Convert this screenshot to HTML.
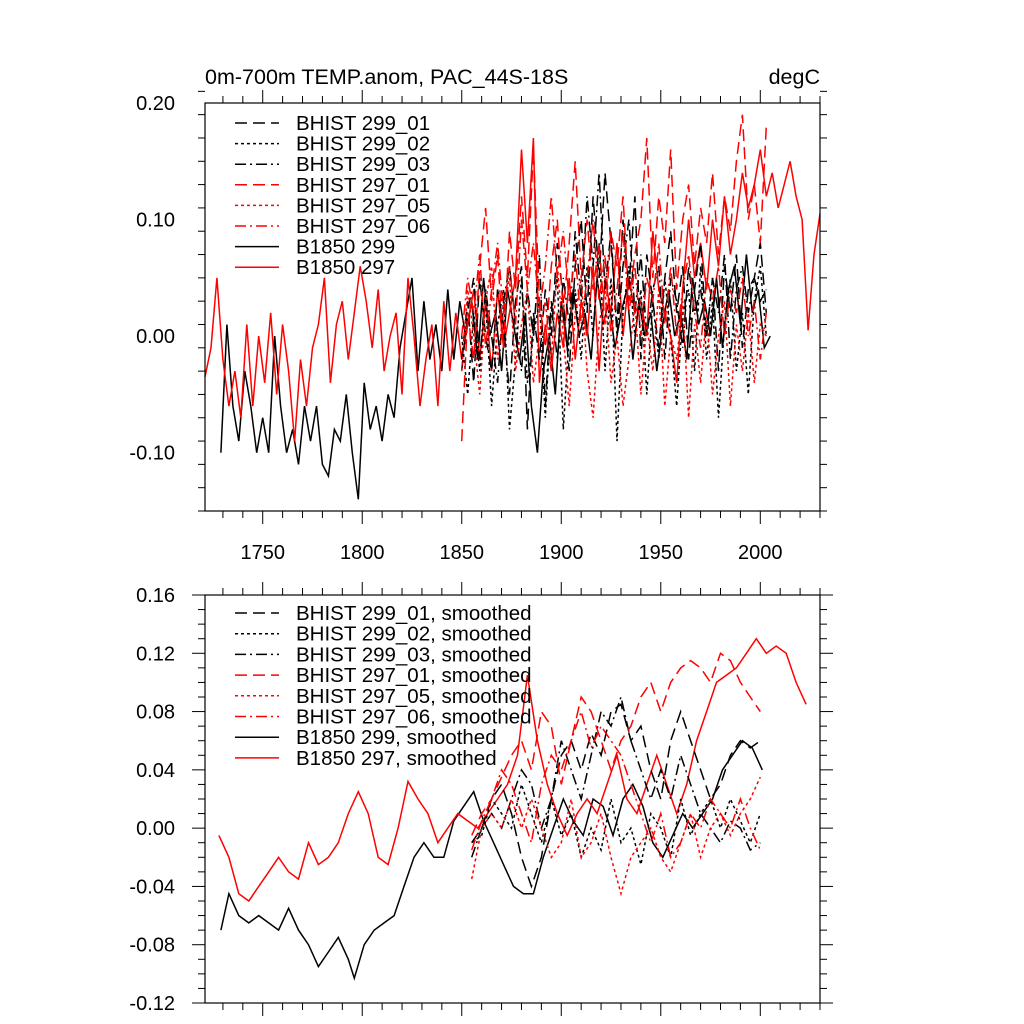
<!DOCTYPE html>
<html><head><meta charset="utf-8"><style>
html,body{margin:0;padding:0;background:#fff;}
svg{display:block;font-family:"Liberation Sans",sans-serif;}
</style></head><body>
<svg id="chart" width="1024" height="1024" viewBox="0 0 1024 1024"></svg>
<script>
// ---- data ----
const hYears = []; for (let y = 1850; y <= 2005; y += 3) hYears.push(y);
const b297Years = []; for (let y = 1721; y <= 2030; y += 3) b297Years.push(y);
const b297Vals = [-0.035,-0.01,0.05,-0.02,-0.06,-0.03,-0.07,0.01,-0.06,0.0,-0.04,0.02,-0.05,0.01,-0.03,-0.09,-0.02,-0.06,-0.01,0.01,0.05,-0.04,0.01,0.03,-0.02,0.02,0.06,0.03,-0.01,0.04,-0.03,0.0,0.02,-0.05,0.05,0.0,-0.06,-0.02,0.01,-0.06,0.03,-0.03,0.02,-0.02,0.01,0.04,-0.02,0.03,-0.03,0.04,-0.01,0.02,0.05,0.16,0.08,0.17,-0.04,0.01,-0.03,0.02,-0.01,0.05,-0.02,0.03,0.0,0.06,-0.03,0.05,0.02,0.08,0.0,0.05,0.02,0.03,0.0,0.09,0.04,0.02,0.0,-0.04,0.04,0.1,0.05,0.08,0.04,0.1,0.06,0.12,0.07,0.1,0.14,0.11,0.13,0.16,0.12,0.14,0.11,0.13,0.15,0.12,0.1,0.005,0.07,0.105];
const b299Years = []; for (let y = 1729; y <= 2005; y += 3) b299Years.push(y);
const b299Vals = [-0.1,0.01,-0.06,-0.09,-0.03,-0.06,-0.1,-0.07,-0.1,0.0,-0.06,-0.1,-0.08,-0.11,-0.06,-0.09,-0.06,-0.11,-0.12,-0.08,-0.09,-0.05,-0.1,-0.14,-0.04,-0.08,-0.06,-0.09,-0.05,-0.07,-0.01,0.02,0.05,-0.03,0.03,-0.02,0.01,-0.03,0.04,-0.02,0.03,0.0,0.03,-0.02,0.05,0.0,0.02,-0.03,0.04,0.01,-0.02,0.02,-0.06,-0.1,-0.03,0.0,-0.05,0.03,-0.01,0.04,0.0,0.02,-0.02,0.05,0.01,0.03,-0.01,0.02,0.04,-0.02,0.03,0.0,0.02,-0.03,0.01,0.04,0.0,0.02,-0.02,0.05,0.01,0.03,0.0,0.05,-0.01,0.04,0.06,0.01,0.07,0.02,0.04,-0.01,0.0];
const h299_01 = [-0.02,0.03,-0.04,0.05,0.0,-0.03,0.04,0.01,-0.05,0.03,0.06,-0.08,0.02,-0.02,0.04,0.0,0.08,0.03,-0.03,0.06,0.1,0.02,0.12,0.05,0.14,0.08,0.01,0.1,0.04,0.12,-0.02,0.07,0.03,-0.01,0.05,0.09,0.02,0.06,-0.02,0.04,0.08,0.0,0.05,-0.03,0.06,0.02,0.07,-0.01,0.04,0.05,0.08,0.02];
const h299_02 = [0.0,-0.05,0.02,-0.03,0.03,-0.06,0.01,0.04,-0.08,-0.02,0.05,-0.04,0.0,0.03,-0.07,0.02,0.05,-0.08,0.0,0.04,-0.02,0.06,0.0,0.08,-0.03,0.05,-0.09,0.02,0.06,0.0,0.04,-0.05,0.03,-0.02,0.05,0.0,-0.06,0.02,0.04,-0.03,0.06,-0.02,0.03,-0.07,0.01,0.05,-0.03,0.02,-0.05,0.03,0.06,0.0];
const h299_03 = [-0.03,0.02,0.05,-0.02,0.04,0.0,-0.04,0.03,0.06,0.01,-0.03,0.04,0.0,0.07,-0.06,0.03,-0.02,0.05,0.01,0.09,0.03,0.12,0.06,0.14,0.04,0.09,0.0,0.06,0.1,0.02,0.07,0.0,0.04,0.06,-0.02,0.05,0.03,-0.01,0.06,0.02,0.04,0.0,0.05,0.02,0.07,-0.02,0.04,0.06,0.02,0.05,0.03,0.04];
const h297_01 = [-0.09,0.02,-0.02,0.06,0.11,0.03,0.07,-0.01,0.09,0.04,0.12,0.05,0.16,0.03,-0.01,0.06,0.1,0.02,0.08,0.15,0.05,0.1,0.04,0.08,0.01,0.09,0.06,0.12,0.03,0.07,0.1,0.17,0.05,0.12,0.08,0.16,0.04,0.1,0.13,0.06,0.11,0.08,0.14,0.07,0.12,0.09,0.15,0.19,0.1,0.13,0.08,0.18];
const h297_05 = [-0.03,0.04,0.0,-0.05,0.03,0.06,-0.02,0.02,0.05,-0.03,0.01,0.04,-0.04,0.0,0.03,-0.02,0.06,0.0,-0.06,0.02,0.05,-0.03,-0.07,0.01,0.04,-0.04,0.0,-0.06,-0.02,0.03,-0.05,0.01,-0.03,0.04,-0.06,0.0,-0.02,0.03,-0.07,0.01,-0.04,0.02,-0.05,0.0,0.03,-0.06,0.01,-0.03,0.02,-0.04,0.01,0.0];
const h297_06 = [0.0,0.05,0.02,0.07,-0.01,0.04,0.08,0.02,0.06,0.01,0.1,0.04,0.08,0.02,0.06,0.12,0.05,0.09,0.03,0.07,0.01,0.05,0.1,0.03,0.07,0.0,0.04,0.09,0.02,0.06,0.0,0.05,0.03,0.08,0.01,0.06,0.0,0.04,0.07,0.02,-0.01,0.05,0.03,0.06,0.0,0.04,0.02,0.05,0.0,0.03,-0.02,0.02];

const sYears = []; for (let y = 1855; y <= 2000; y += 5) sYears.push(y);
const s297Years = [1728,1733,1738,1743,1748,1753,1758,1763,1768,1773,1778,1783,1788,1793,1798,1803,1808,1813,1818,1823,1828,1833,1838,1843,1848,1853,1858,1863,1868,1873,1878,1883,1888,1893,1898,1903,1908,1913,1918,1923,1928,1933,1938,1943,1948,1953,1958,1963,1968,1973,1978,1983,1988,1993,1998,2003,2008,2013,2018,2023];
const s297Vals = [-0.005,-0.02,-0.045,-0.05,-0.04,-0.03,-0.02,-0.03,-0.035,-0.01,-0.025,-0.02,-0.01,0.01,0.025,0.01,-0.02,-0.025,0.0,0.032,0.02,0.01,-0.01,0.0,0.01,0.005,0.0,0.01,0.02,0.03,0.05,0.105,0.06,0.03,0.01,-0.005,0.01,0.02,0.01,0.03,0.05,0.02,0.01,0.03,0.05,0.03,0.01,0.03,0.06,0.08,0.1,0.105,0.11,0.12,0.13,0.12,0.125,0.12,0.1,0.085];
const s299Years = [1729,1733,1738,1743,1748,1753,1758,1763,1768,1773,1778,1783,1788,1793,1796,1801,1806,1811,1816,1821,1826,1831,1836,1841,1846,1851,1856,1861,1866,1871,1876,1881,1886,1891,1896,1901,1906,1911,1916,1921,1926,1931,1936,1941,1946,1951,1956,1961,1966,1971,1976,1981,1986,1991,1996,2001];
const s299Vals = [-0.07,-0.045,-0.06,-0.065,-0.06,-0.065,-0.07,-0.055,-0.07,-0.08,-0.095,-0.085,-0.075,-0.09,-0.103,-0.08,-0.07,-0.065,-0.06,-0.04,-0.02,-0.01,-0.02,-0.02,0.005,0.015,0.025,0.005,-0.01,-0.025,-0.04,-0.045,-0.045,-0.02,0.0,0.02,0.005,-0.005,0.02,0.015,-0.005,0.02,0.03,0.015,-0.01,-0.02,-0.005,0.01,0.0,0.01,0.02,0.04,0.05,0.06,0.055,0.04];
const s299_01 = [-0.01,0.0,0.02,0.03,0.01,-0.02,-0.04,-0.02,0.02,0.05,0.06,0.04,0.065,0.05,0.08,0.085,0.06,0.07,0.04,0.02,0.06,0.08,0.06,0.04,0.02,0.03,0.05,0.06,0.055,0.06];
const s299_02 = [-0.01,-0.005,0.02,0.01,0.0,0.03,0.01,-0.01,0.02,-0.005,0.01,-0.02,0.0,-0.015,0.02,-0.01,0.0,-0.025,0.01,0.0,-0.02,0.02,-0.005,0.01,0.02,0.0,0.02,0.005,-0.01,0.01];
const s299_03 = [-0.02,0.0,0.01,0.0,0.02,0.04,0.03,0.0,0.02,0.06,0.04,0.02,0.05,0.08,0.07,0.09,0.06,0.04,0.02,0.04,0.02,0.05,0.03,0.01,0.0,-0.01,0.005,0.0,-0.015,-0.01];
const s297_01 = [-0.005,0.01,0.02,0.035,0.05,0.06,0.04,0.08,0.07,0.03,0.06,0.09,0.08,0.06,0.04,0.06,0.07,0.09,0.1,0.08,0.1,0.11,0.115,0.11,0.1,0.12,0.115,0.1,0.09,0.08];
const s297_05 = [-0.035,0.0,0.01,0.0,0.02,0.0,0.02,0.0,-0.02,-0.01,0.02,-0.02,-0.01,0.01,-0.02,-0.045,-0.02,-0.01,0.0,-0.02,-0.03,-0.01,0.01,-0.02,0.0,0.01,-0.005,0.01,0.02,0.035];
const s297_06 = [-0.015,0.005,0.02,0.04,0.03,0.01,-0.01,0.03,0.05,0.04,0.06,0.08,0.055,0.07,0.06,0.05,0.03,0.01,-0.01,0.01,-0.02,-0.01,0.01,0.0,0.02,0.01,0.0,0.02,0.0,-0.015];

const topYTicks = [0.2, 0.1, 0.0, -0.1];
const topYLabels = ["0.20","0.10","0.00","-0.10"];
const botYTicks = [0.16,0.12,0.08,0.04,0.0,-0.04,-0.08,-0.12];
const botYLabels = ["0.16","0.12","0.08","0.04","0.00","-0.04","-0.08","-0.12"];
const xTicks = [1750,1800,1850,1900,1950,2000];
const xLabels = ["1750","1800","1850","1900","1950","2000"];
const topLegend = ["BHIST 299_01","BHIST 299_02","BHIST 299_03","BHIST 297_01","BHIST 297_05","BHIST 297_06","B1850 299","B1850 297"];
const botLegend = ["BHIST 299_01, smoothed","BHIST 299_02, smoothed","BHIST 299_03, smoothed","BHIST 297_01, smoothed","BHIST 297_05, smoothed","BHIST 297_06, smoothed","B1850 299, smoothed","B1850 297, smoothed"];

// ---- drawing ----
const NS = "http://www.w3.org/2000/svg";
const svg = document.getElementById("chart");
const X0 = 205, X1 = 820, XMIN = 1721, XMAX = 2030;
const xs = v => X0 + (v - XMIN) / (XMAX - XMIN) * (X1 - X0);
const styles = [
  {c:"#000", d:"12,6"}, {c:"#000", d:"3,3"}, {c:"#000", d:"11,4,2,4"},
  {c:"#f00", d:"12,6"}, {c:"#f00", d:"3,3"}, {c:"#f00", d:"11,4,2,4"},
  {c:"#000", d:""}, {c:"#f00", d:""}
];
function mk(tag, attrs, parent) {
  const e = document.createElementNS(NS, tag);
  for (const k in attrs) e.setAttribute(k, attrs[k]);
  (parent || svg).appendChild(e);
  return e;
}
function panel(name, Y0, Y1, YMIN, YMAX, yTicks, yLabels, yMinor, showXLabels, series, legend, legY0, legDY) {
  const g = mk("g", {});
  
  
  const ys = v => Y1 - (v - YMIN) / (YMAX - YMIN) * (Y1 - Y0);
  series.forEach((s, i) => {
    const pts = s.x.map((x, j) => xs(x).toFixed(1) + "," + ys(s.y[j]).toFixed(1)).join(" ");
    const p = mk("polyline", {points: pts, fill: "none", stroke: styles[s.st].c, "stroke-width": 1.5, "stroke-dasharray": styles[s.st].d}, g);
    
    
  });
  const fr = mk("rect", {x: X0, y: Y0, width: X1 - X0, height: Y1 - Y0, fill: "none", stroke: "#000", "stroke-width": 1.2}, g);
  
  
  for (let yr = 1730; yr <= 2030; yr += 10) {
    const x = xs(yr), major = yr % 50 === 0, L = major ? 13 : 7;
    mk("line", {x1: x, x2: x, y1: Y1, y2: Y1 + L, stroke: "#000"}, g);
    mk("line", {x1: x, x2: x, y1: Y0, y2: Y0 - L, stroke: "#000"}, g);
  }
  if (showXLabels) xTicks.forEach((t, i) => {
    const tx = mk("text", {x: xs(t), y: Y1 + 48, "text-anchor": "middle", "font-size": 20}, g);
    tx.textContent = xLabels[i];
    
    
  });
  const nm = Math.round((YMAX - YMIN) / yMinor);
  for (let k = 0; k <= nm; k++) {
    const v = YMIN + k * yMinor, y = ys(v);
    const major = yTicks.some(t => Math.abs(t - v) < 1e-6), L = major ? 13 : 7;
    mk("line", {x1: X0, x2: X0 - L, y1: y, y2: y, stroke: "#000"}, g);
    mk("line", {x1: X1, x2: X1 + L, y1: y, y2: y, stroke: "#000"}, g);
  }
  yTicks.forEach((t, i) => {
    const tx = mk("text", {x: X0 - 30, y: ys(t) + 7, "text-anchor": "end", "font-size": 20}, g);
    tx.textContent = yLabels[i];
    
    
  });
  legend.forEach((lab, i) => {
    const y = legY0 + i * legDY;
    const ln = mk("line", {x1: 235, x2: 279, y1: y, y2: y, stroke: styles[i].c, "stroke-width": 1.5, "stroke-dasharray": styles[i].d}, g);
    
    
    const tx = mk("text", {x: 296, y: y + 7, "font-size": 20.5}, g);
    tx.textContent = lab;
    
    
  });
}
panel("top-panel", 103, 511, -0.15, 0.20, topYTicks, topYLabels, 0.02, true, [
  {x: b299Years, y: b299Vals, st: 6},
  {x: b297Years, y: b297Vals, st: 7},
  {x: hYears, y: h299_01, st: 0},
  {x: hYears, y: h299_02, st: 1},
  {x: hYears, y: h299_03, st: 2},
  {x: hYears, y: h297_01, st: 3},
  {x: hYears, y: h297_05, st: 4},
  {x: hYears, y: h297_06, st: 5}
], topLegend, 123, 20.6);
panel("bottom-panel", 595, 1003, -0.12, 0.16, botYTicks, botYLabels, 0.01, false, [
  {x: s299Years, y: s299Vals, st: 6},
  {x: s297Years, y: s297Vals, st: 7},
  {x: sYears, y: s299_01, st: 0},
  {x: sYears, y: s299_02, st: 1},
  {x: sYears, y: s299_03, st: 2},
  {x: sYears, y: s297_01, st: 3},
  {x: sYears, y: s297_05, st: 4},
  {x: sYears, y: s297_06, st: 5}
], botLegend, 613, 20.7);
const t1 = mk("text", {x: 205, y: 84, "font-size": 21.5});
t1.textContent = "0m-700m TEMP.anom, PAC_44S-18S";


const t2 = mk("text", {x: 820, y: 84, "font-size": 21.5, "text-anchor": "end"});
t2.textContent = "degC";


</script>
</body></html>
